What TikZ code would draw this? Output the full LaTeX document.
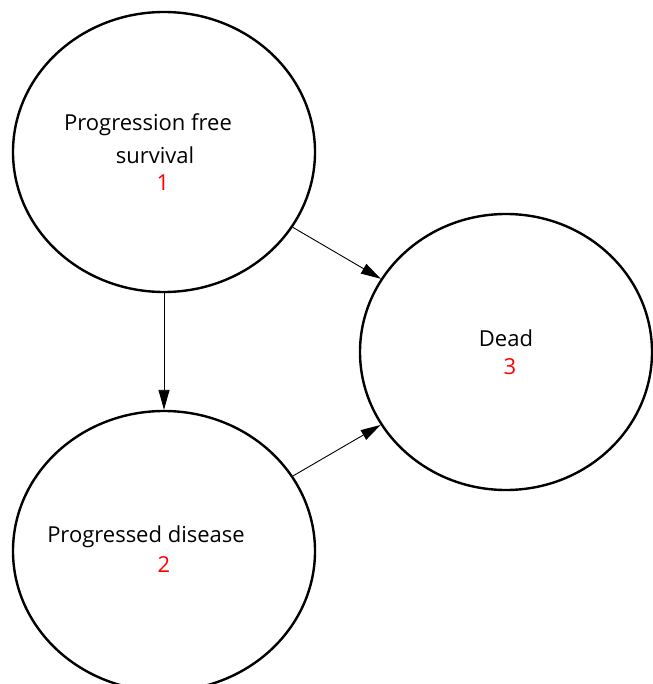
\documentclass[tikz,border=0pt]{standalone}
\usepackage{fontspec}
\setmainfont{Open Sans}
\usetikzlibrary{shapes.geometric,arrows.meta}
\begin{document}
\begin{tikzpicture}[x=1pt,y=-1pt,
  state/.style={ellipse,draw=black,line width=2.4pt,minimum width=302pt,minimum height=280pt,inner sep=0pt},
  lbl/.style={font=\fontsize{22}{24}\selectfont,text=black,inner sep=0pt,anchor=center},
  num/.style={font=\fontsize{22}{24}\selectfont,text=red,inner sep=0pt,anchor=center},
  trans/.style={line width=0.9pt,-{Triangle[length=20pt,width=11pt]}}]
\useasboundingbox (0,0) rectangle (652,684);
\node[state] (s1) at (164,152) {};
\node[state] (s2) at (164,551) {};
\node[state,minimum width=292pt,minimum height=276pt] (s3) at (506,352) {};
\node[lbl] (t1a) at (148,125) {Progression free};
\node[lbl] (t1b) at (155,155) {survival};
\node[num] (n1) at (163,183) {1};
\node[lbl] (t2a) at (146,537) {Progressed disease};
\node[num] (n2) at (164,565) {2};
\node[lbl] (t3a) at (506,338) {Dead};
\node[num] (n3) at (510,367) {3};
\draw[trans] (s1) -- (s2);
\draw[trans] (s1) -- (s3);
\draw[trans] (s2) -- (s3);
\end{tikzpicture}
\end{document}
